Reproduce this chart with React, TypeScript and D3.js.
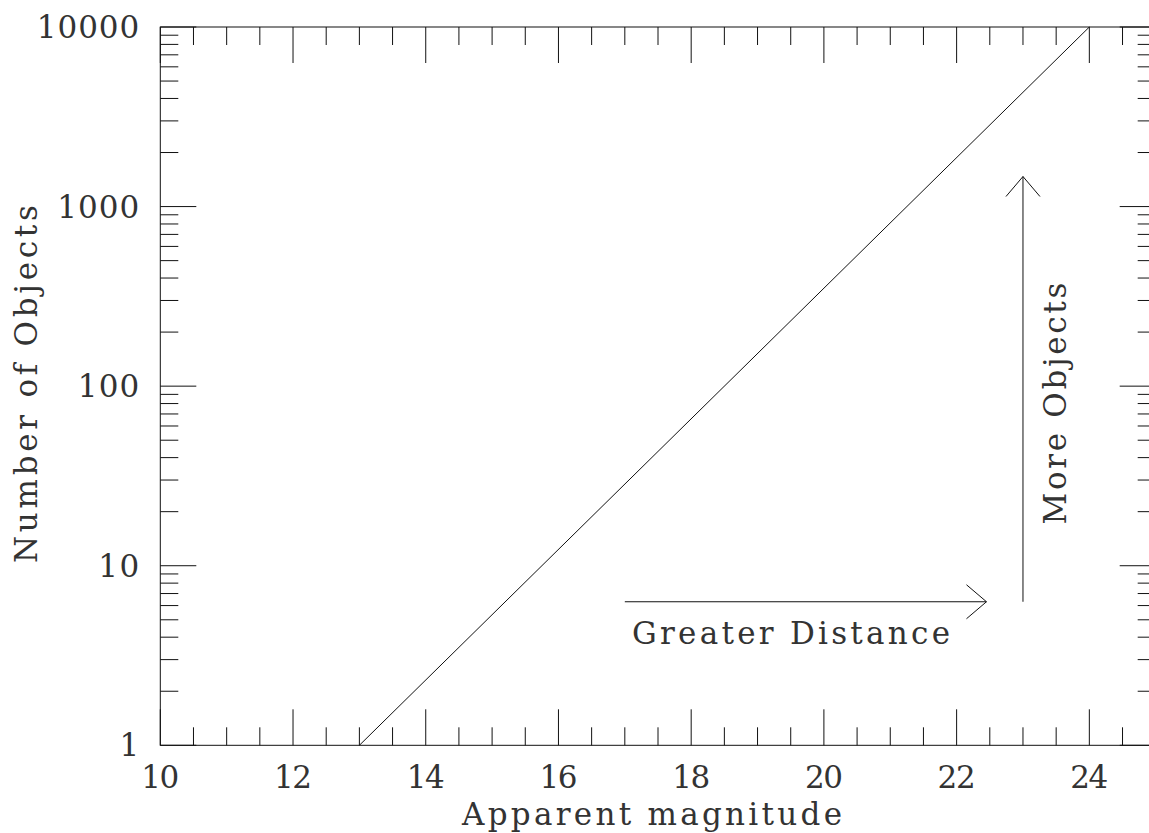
import * as d3 from "d3";

// data
const magDomain = [10, 25];
const countDomain = [1, 10000];
const magMajor = [10, 12, 14, 16, 18, 20, 22, 24];
const countMajor = [1, 10, 100, 1000, 10000];
const countLabels = ["1", "10", "100", "1000", "10000"];
const lineMag = [13, 24];
const lineCount = [1, 10000];
const distArrow = { x: [17, 22.45], y: [6.3, 6.3] };
const objArrow = { x: [23, 23], y: [6.3, 1470] };

const W = 1149;
const H = 833;
const m = { left: 160.3, right: 1155.7, top: 27, bottom: 745.3 };
const FONT = "'DejaVu Serif', 'Liberation Serif', serif";
const INK = "#111";
const CH = 20.5; // approx advance per character in the reference lettering

export default function App() {
  const x = d3.scaleLinear().domain(magDomain).range([m.left, m.right]);
  const y = d3.scaleLog().domain(countDomain).range([m.bottom, m.top]);

  const xMinor = d3.range(magDomain[0], magDomain[1] + 0.001, 0.5).filter(v => !magMajor.includes(v));
  const yMinor = y.ticks().filter(v => !countMajor.includes(v));

  const big = 36, small = 18;
  const line = d3.line<number>().x(d => x(lineMag[d])).y(d => y(lineCount[d]));

  const hx1 = x(distArrow.x[1]), hy = y(distArrow.y[1]);
  const vx = x(objArrow.x[1]), vy1 = y(objArrow.y[1]);

  return (
    <svg width={W} height={H} style={{ position: "absolute", left: 0, top: 0, background: "#fff" }}>
      <g stroke={INK} strokeWidth={1} fill="none">
        <rect x={m.left} y={m.top} width={m.right - m.left} height={m.bottom - m.top} />
        {magMajor.map(v => (
          <g key={"xM" + v}>
            <line x1={x(v)} x2={x(v)} y1={m.bottom} y2={m.bottom - big} />
            <line x1={x(v)} x2={x(v)} y1={m.top} y2={m.top + big} />
          </g>
        ))}
        {xMinor.map(v => (
          <g key={"xm" + v}>
            <line x1={x(v)} x2={x(v)} y1={m.bottom} y2={m.bottom - small} />
            <line x1={x(v)} x2={x(v)} y1={m.top} y2={m.top + small} />
          </g>
        ))}
        {countMajor.map(v => (
          <g key={"yM" + v}>
            <line x1={m.left} x2={m.left + big} y1={y(v)} y2={y(v)} />
            <line x1={m.right} x2={m.right - big} y1={y(v)} y2={y(v)} />
          </g>
        ))}
        {yMinor.map(v => (
          <g key={"ym" + v}>
            <line x1={m.left} x2={m.left + small} y1={y(v)} y2={y(v)} />
            <line x1={m.right} x2={m.right - small} y1={y(v)} y2={y(v)} />
          </g>
        ))}
        <path d={line([0, 1]) ?? ""} />
        <line x1={x(distArrow.x[0])} x2={hx1} y1={y(distArrow.y[0])} y2={hy} />
        <path d={`M${hx1 - 20},${hy - 17}L${hx1},${hy}L${hx1 - 20},${hy + 17}`} />
        <line x1={x(objArrow.x[0])} x2={vx} y1={y(objArrow.y[0])} y2={vy1} />
        <path d={`M${vx - 17},${vy1 + 20}L${vx},${vy1}L${vx + 17},${vy1 + 20}`} />
      </g>

      <g fill="#333" fontFamily={FONT} fontSize={31}>
        {magMajor.map(v => (
          <text key={"xl" + v} x={x(v)} y={788} textAnchor="middle"
            textLength={String(v).length * CH - 3} lengthAdjust="spacing">{v}</text>
        ))}
        {countMajor.map((v, i) => (
          <text key={"yl" + v} x={m.left - 21} y={y(v) + 11} textAnchor="end"
            textLength={countLabels[i].length * CH} lengthAdjust="spacing">{countLabels[i]}</text>
        ))}
        <text x={652} y={825} textAnchor="middle" textLength={380} lengthAdjust="spacing">Apparent magnitude</text>
        <text transform="translate(37,384) rotate(-90)" textAnchor="middle" textLength={358} lengthAdjust="spacing">Number of Objects</text>
        <text transform={`translate(1066,${y(80)}) rotate(-90)`} textAnchor="middle" textLength={242} lengthAdjust="spacing">More Objects</text>
        <text x={632} y={y(3.66)} textLength={318} lengthAdjust="spacing">Greater Distance</text>
      </g>
    </svg>
  );
}
